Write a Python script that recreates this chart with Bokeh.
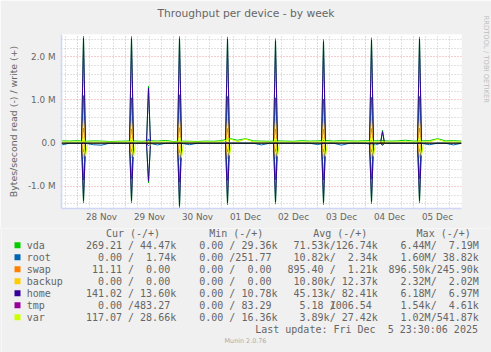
from bokeh.plotting import figure
from bokeh.models import Range1d, FixedTicker, Span, Title, Spacer
from bokeh.layouts import column, row
from bokeh.embed import file_html
from bokeh.resources import INLINE
from bokeh.core.properties import value

FONT = "DejaVu Sans"
MONO = "DejaVu Sans Mono"
TXT = "#666666"
BG = "#F0F0F0"
AXIS = "#CFD6F8"

# ---------------- data ----------------
title_text = "Throughput per device - by week"
y_label = "Bytes/second read (-) / write (+)"

# time axis: hours since Thu 27 Nov 16:00 (left edge); right edge = Sat 6 Dec 00:00
t_start, t_end = 0, 200
day_labels = ["28 Nov", "29 Nov", "30 Nov", "01 Dec", "02 Dec", "03 Dec", "04 Dec", "05 Dec"]
day_label_hours = [20, 44, 68, 92, 116, 140, 164, 188]     # noon of each day
midnight_hours = [8, 32, 56, 80, 104, 128, 152, 176]

y_ticks = [-1000000, 0, 1000000, 2000000]
y_tick_labels = ["-1.0 M", "0.0", "1.0 M", "2.0 M"]

devices = ["vda", "root", "swap", "backup", "home", "tmp", "var"]
colors = ["#00CC00", "#0066B3", "#FF8000", "#FFCC00", "#330099", "#990099", "#CCFF00"]

# bursts (hours) - the nightly job plus two smaller ones
spike_hours = [11, 35, 43.5, 59, 83, 107, 131, 155, 160.5, 179]
var_read_hours = [12, 36, 44.5, 60, 84, 108, 132, 156, 161.5, 180]

# peak rates at each burst (bytes/s); write drawn up, read drawn down
vda_write_peak    = [2.48e6, 2.47e6, 1.32e6, 2.47e6, 2.46e6, 2.42e6, 2.40e6, 2.44e6, 0.30e6, 2.46e6]
vda_read_peak     = [1.38e6, 1.38e6, 0.92e6, 1.50e6, 1.43e6, 1.41e6, 1.42e6, 1.40e6, 0.05e6, 1.38e6]
root_write_peak   = [1.10e6, 1.05e6, 0.10e6, 1.12e6, 1.08e6, 1.05e6, 1.02e6, 1.06e6, 0.02e6, 1.08e6]
root_read_peak    = [0.85e6, 0.82e6, 0.06e6, 0.90e6, 0.86e6, 0.84e6, 0.85e6, 0.83e6, 0.01e6, 0.82e6]
swap_write_peak   = [0.35e6, 0.33e6, 0.00e6, 0.36e6, 0.34e6, 0.33e6, 0.32e6, 0.34e6, 0.00e6, 0.35e6]
swap_read_peak    = [0.20e6, 0.19e6, 0.00e6, 0.22e6, 0.20e6, 0.19e6, 0.20e6, 0.20e6, 0.00e6, 0.19e6]
backup_write_peak = [0.62e6, 0.60e6, 0.00e6, 0.63e6, 0.61e6, 0.60e6, 0.58e6, 0.61e6, 0.00e6, 0.62e6]
backup_read_peak  = [0.35e6, 0.34e6, 0.00e6, 0.38e6, 0.36e6, 0.35e6, 0.35e6, 0.35e6, 0.00e6, 0.34e6]
home_write_peak   = [2.43e6, 2.42e6, 1.28e6, 2.42e6, 2.41e6, 2.37e6, 2.35e6, 2.39e6, 0.27e6, 2.41e6]
home_read_peak    = [1.33e6, 1.33e6, 0.88e6, 1.45e6, 1.38e6, 1.36e6, 1.37e6, 1.35e6, 0.04e6, 1.33e6]
tmp_write_peak    = [4.0e3, 3.5e3, 0.0, 4.2e3, 3.8e3, 4.0e3, 3.6e3, 4.1e3, 0.0, 3.9e3]
tmp_read_peak     = [1.0e3, 0.8e3, 0.0, 1.2e3, 1.0e3, 0.9e3, 1.1e3, 1.0e3, 0.0, 0.9e3]
var_write_peak    = [0.15e6, 0.14e6, 0.02e6, 0.16e6, 0.15e6, 0.14e6, 0.14e6, 0.15e6, 0.01e6, 0.15e6]
var_read_peak     = [0.30e6, 0.32e6, 0.04e6, 0.33e6, 0.28e6, 0.30e6, 0.30e6, 0.30e6, 0.00e6, 0.28e6]

# background rates between bursts, every 4 hours (kB/s)
base_hours = list(range(0, 201, 4))
vda_write_base = [55, 50, 60, 45, 55, 50, 40, 45, 50, 55,
                  45, 60, 50, 65, 40, 50, 45, 40, 50, 45,
                  60, 110, 70, 105, 55, 50, 45, 55, 50, 45,
                  60, 50, 55, 65, 50, 60, 55, 50, 60, 55,
                  60, 50, 55, 70, 50, 55, 60, 105, 55, 60, 50]
var_write_base = [30, 28, 32, 27, 30, 29, 26, 28, 30, 31,
                  27, 30, 29, 32, 26, 28, 30, 27, 29, 28,
                  31, 100, 35, 95, 30, 28, 27, 30, 29, 28,
                  31, 29, 30, 33, 28, 31, 30, 29, 31, 30,
                  32, 29, 30, 34, 28, 30, 31, 90, 30, 31, 29]
root_read_base = [40, 0, 0, 0, 35, 45, 0, 0, 0, 0,
                  0, 0, 40, 0, 0, 0, 35, 0, 0, 0,
                  0, 0, 0, 0, 0, 40, 0, 0, 0, 0,
                  0, 0, 30, 0, 0, 45, 0, 0, 0, 40,
                  0, 0, 0, 0, 0, 0, 35, 0, 0, 40, 0]

# legend table (read/write)
cur_col = ["269.21/44.47k", "0.00/1.74k", "11.11/0.00", "0.00/0.00", "141.02/13.60k", "0.00/483.27", "117.07/28.66k"]
min_col = ["0.00/29.36k", "0.00/251.77", "0.00/0.00", "0.00/0.00", "0.00/10.78k", "0.00/83.29", "0.00/16.36k"]
avg_col = ["71.53k/126.74k", "10.82k/2.34k", "895.40/1.21k", "10.80k/12.37k", "45.13k/82.41k", "5.18/1006.54", "3.89k/27.42k"]
max_col = ["6.44M/7.19M", "1.60M/38.82k", "896.50k/245.90k", "2.32M/2.02M", "6.18M/6.97M", "1.54k/4.61k", "1.02M/541.87k"]
headers = ["Cur (-/+)", "Min (-/+)", "Avg (-/+)", "Max (-/+)"]
last_update = ["Last update: Fri Dec", "5 23:30:06 2025"]
version_text = "Munin 2.0.76"
watermark = "RRDTOOL / TOBI OETIKER"

series = {
    "vda": (vda_write_peak, vda_read_peak, vda_write_base, None),
    "root": (root_write_peak, root_read_peak, None, root_read_base),
    "swap": (swap_write_peak, swap_read_peak, None, None),
    "backup": (backup_write_peak, backup_read_peak, None, None),
    "home": (home_write_peak, home_read_peak, None, None),
    "tmp": (tmp_write_peak, tmp_read_peak, None, None),
    "var": (var_write_peak, var_read_peak, var_write_base, None),
}

# ---------------- chart ----------------
p = figure(width=491, height=228, x_range=Range1d(t_start, t_end),
           y_range=Range1d(-1.51e6, 2.515e6), toolbar_location=None,
           output_backend="svg", min_border_left=61, min_border_right=30,
           min_border_top=33, min_border_bottom=20, title=None)
p.background_fill_color = "#FFFFFF"
p.border_fill_color = BG
p.outline_line_color = None

p.xaxis.ticker = FixedTicker(ticks=day_label_hours)
p.xaxis.major_label_overrides = {h: lab for h, lab in zip(day_label_hours, day_labels)}
p.yaxis.ticker = FixedTicker(ticks=y_ticks)
p.yaxis.major_label_overrides = {v: lab for v, lab in zip(y_ticks, y_tick_labels)}
for ax in (p.xaxis[0], p.yaxis[0]):
    ax.major_tick_line_color = None
    ax.minor_tick_line_color = None
    ax.major_tick_out = 0
    ax.major_tick_in = 0
    ax.minor_tick_out = 0
    ax.minor_tick_in = 0
    ax.axis_line_color = AXIS
    ax.axis_line_width = 1.5
    ax.major_label_text_font = FONT
    ax.major_label_text_font_size = "8.8px"
    ax.major_label_text_color = TXT
p.xaxis.major_label_standoff = 3
p.yaxis.major_label_standoff = 6
p.yaxis.axis_label = y_label
p.yaxis.axis_label_text_font = FONT
p.yaxis.axis_label_text_font_size = "9.4px"
p.yaxis.axis_label_text_font_style = "normal"
p.yaxis.axis_label_text_color = TXT
p.yaxis.axis_label_standoff = 6

minor_x = [h for h in range(2, 200, 6) if h not in midnight_hours]
p.xgrid.ticker = FixedTicker(ticks=midnight_hours, minor_ticks=minor_x)
minor_y = [k * 200000 for k in range(-7, 13) if k % 5 != 0]
p.ygrid.ticker = FixedTicker(ticks=y_ticks, minor_ticks=minor_y)
for g in (p.xgrid[0], p.ygrid[0]):
    g.grid_line_color = "#F09A9A"
    g.grid_line_dash = "1 2"
    g.grid_line_width = 1
    g.minor_grid_line_color = "#C4C4C4"
    g.minor_grid_line_dash = "1 2"
    g.minor_grid_line_width = 1

for dev, col in zip(devices, colors):
    wpk, rpk, wbase, rbase = series[dev]
    if wbase is not None:
        p.line(base_hours, [v * 1000 for v in wbase], line_color=col, line_width=1)
    if rbase is not None:
        p.line(base_hours, [-v * 1000 for v in rbase], line_color=col, line_width=1)
    r_hours = var_read_hours if dev == "var" else spike_hours
    p.multi_line([[c - 1, c, c + 1] for c in spike_hours],
                 [[0, v, 0] for v in wpk], line_color=col, line_width=1)
    p.multi_line([[c - 1, c, c + 1] for c in r_hours],
                 [[0, -v, 0] for v in rpk], line_color=col, line_width=1)

p.add_layout(Span(location=0, dimension="width", line_color="#000000", line_width=1.2))

# title (above) and watermark (right); blank spacer titles keep them off the frame
p.add_layout(Title(text=" ", text_font_size="1px", standoff=6), "above")
p.add_layout(Title(text=title_text, text_font=FONT, text_font_size="10.7px",
                   text_font_style="normal", text_color=TXT, align="left", offset=96,
                   vertical_align="middle", standoff=10), "above")
p.add_layout(Title(text=" ", text_font_size="1px", standoff=15), "right")
p.add_layout(Title(text=watermark, text_font=FONT, text_font_size="6.8px",
                   text_font_style="normal", text_color="#BDBDBD", align="left",
                   offset=-19, vertical_align="middle", standoff=2), "right")

# ---------------- legend table (own figure, pixel coordinates) ----------------
t = figure(width=489, height=124, x_range=Range1d(1, 490), y_range=Range1d(352, 228),
           toolbar_location=None, output_backend="svg", min_border=0,
           x_axis_location=None, y_axis_location=None)
t.grid.visible = False
t.outline_line_color = None
t.background_fill_color = BG
t.border_fill_color = BG

CW = 6.02
field_x = [85.4, 186.7, 287.0, 388.0]
header_x = [105.4, 208.7, 312.7, 416.1]
row_y = [244.7 + 12 * i for i in range(len(devices))]

t.rect(x=[17] * len(devices), y=row_y, width=6, height=6, fill_color=colors, line_color=None)

left_x, left_y, left_s = [], [], []
right_x, right_y, right_s = [], [], []
for hx, h in zip(header_x, headers):
    left_x.append(hx); left_y.append(232.7); left_s.append(h)
for i, dev in enumerate(devices):
    y = row_y[i]
    left_x.append(26.2); left_y.append(y); left_s.append(dev)
    for fx, colvals in zip(field_x, (cur_col, min_col, avg_col, max_col)):
        a, b = colvals[i].split("/")
        ua = a[-1] if a[-1].isalpha() else ""
        ub = b[-1] if b[-1].isalpha() else ""
        a = a[:-1] if ua else a
        b = b[:-1] if ub else b
        right_x.append(fx + 6 * CW); right_y.append(y); right_s.append(a)
        if ua:
            left_x.append(fx + 6 * CW); left_y.append(y); left_s.append(ua)
        left_x.append(fx + 7 * CW); left_y.append(y); left_s.append("/")
        right_x.append(fx + 14 * CW); right_y.append(y); right_s.append(b)
        if ub:
            left_x.append(fx + 14 * CW); left_y.append(y); left_s.append(ub)
left_x += [254.7, 254.7 + 22 * CW]; left_y += [329.0, 329.0]; left_s += last_update

t.text(x=left_x, y=left_y, text=left_s, text_font=value(MONO), text_font_size="10px",
       text_color=TXT, text_baseline="middle", text_align="left")
t.text(x=right_x, y=right_y, text=right_s, text_font=value(MONO), text_font_size="10px",
       text_color=TXT, text_baseline="middle", text_align="right")
t.text(x=[245], y=[340.3], text=[version_text], text_font=value(FONT), text_font_size="6.4px",
       text_color="#ABABAB", text_baseline="middle", text_align="center")

pad_l = Spacer(width=1, height=124, styles={"background-color": BG})
pad_r = Spacer(width=1, height=124, styles={"background-color": BG})
layout = column(p, row(pad_l, t, pad_r, spacing=0), spacing=0)
open("out.html", "w").write(file_html(layout, INLINE))
